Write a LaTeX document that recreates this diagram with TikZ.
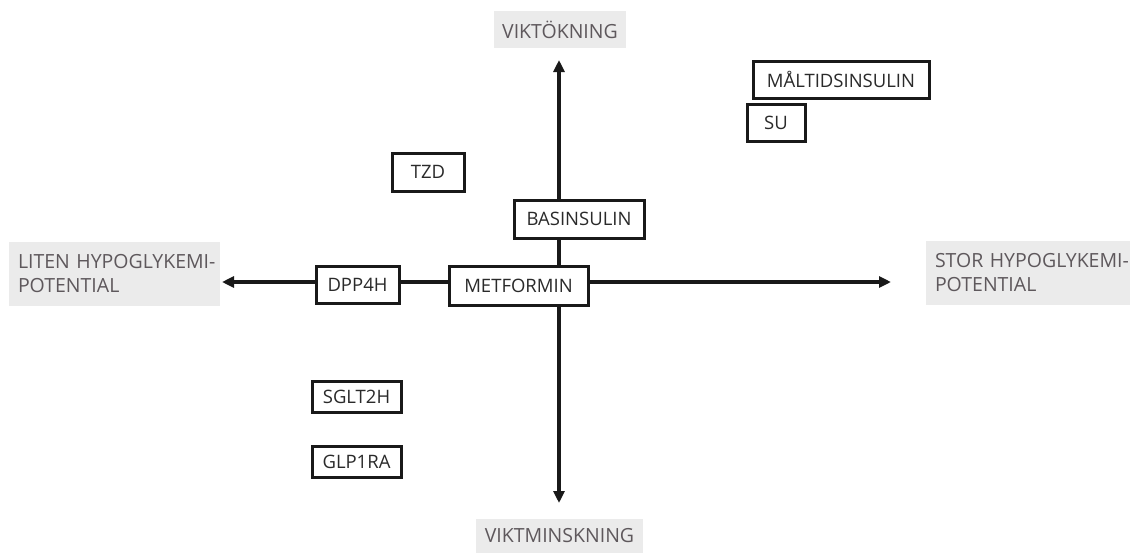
\documentclass[tikz,border=0pt]{standalone}
\usepackage{fontspec}
\setmainfont{Open Sans}
\usetikzlibrary{arrows.meta}
\definecolor{labelbg}{HTML}{EBEBEB}
\definecolor{labeltx}{HTML}{5E585C}
\definecolor{boxtx}{HTML}{2A2A2A}
\tikzset{
  drug/.style={draw=black!90, line width=3pt, fill=white, text=boxtx, inner sep=0pt,
    font=\fontsize{18.5}{22}\selectfont},
  axislabel/.style={fill=labelbg, text=labeltx, inner sep=0pt,
    font=\fontsize{19.5}{22}\selectfont},
  sidelabel/.style={fill=labelbg, text=labeltx, inner xsep=9pt, inner ysep=0pt, align=left,
    font=\fontsize{19.5}{24}\selectfont},
  axis/.style={line width=3.2pt, draw=black!90, -{Triangle[length=12pt,width=11pt]}}
}
\begin{document}
\begin{tikzpicture}[x=1pt,y=-1pt]
\useasboundingbox (0,0) rectangle (1130,552);
% axis endpoints
\coordinate (top) at (559,60);
\coordinate (bot) at (559,503);
\coordinate (left) at (222,282);
\coordinate (right) at (891,282);
\coordinate (centre) at (559,282);
\draw[axis] (centre) -- (top);
\draw[axis] (centre) -- (bot);
\draw[axis] (centre) -- (left);
\draw[axis] (centre) -- (right);
% axis labels
\node[axislabel, minimum width=132pt, minimum height=37pt] (up) at (560,29.5) {VIKTÖKNING};
\node[axislabel, minimum width=167pt, minimum height=34pt] (down) at (559.5,536) {VIKTMINSKNING};
\node[sidelabel, minimum width=211pt, minimum height=64pt, text width=193pt] (lo) at (114.5,274) {\mbox{LITEN HYPOGLYKEMI-}\\POTENTIAL};
\node[sidelabel, minimum width=204pt, minimum height=64pt, text width=186pt] (hi) at (1028,273) {\mbox{STOR HYPOGLYKEMI-}\\POTENTIAL};
% drugs
\node[drug, minimum width=176pt, minimum height=37pt] (malt) at (841,79.5) {MÅLTIDSINSULIN};
\node[drug, minimum width=58pt, minimum height=37pt] (su) at (776,122.5) {SU};
\node[drug, minimum width=72pt, minimum height=38pt] (tzd) at (428,172) {TZD};
\node[drug, minimum width=130pt, minimum height=38pt] (bas) at (579,219) {BASINSULIN};
\node[drug, minimum width=139pt, minimum height=39pt] (met) at (518.5,285.5) {METFORMIN};
\node[drug, minimum width=83pt, minimum height=37pt] (dpp) at (357.5,284.5) {DPP4H};
\node[drug, minimum width=89pt, minimum height=31pt] (sglt) at (356.5,396.5) {SGLT2H};
\node[drug, minimum width=89pt, minimum height=31pt] (glp) at (356.5,461.5) {GLP1RA};
\end{tikzpicture}
\end{document}
